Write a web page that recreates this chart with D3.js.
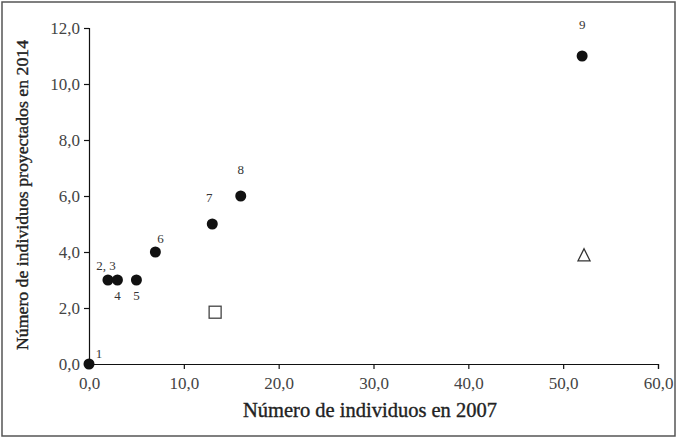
<!DOCTYPE html>
<html><head><meta charset="utf-8">
<script src="https://cdn.jsdelivr.net/npm/d3@7/dist/d3.min.js"></script>
<style>body{margin:0;background:#fff}svg{display:block}text{font-family:"Liberation Serif","DejaVu Serif",serif}</style>
</head><body>
<script>
// Data
const pointLabels = ["1","2, 3","4","5","6","7","8","9"];
const x2007 = [0, 2, 3, 5, 7, 13, 16, 52];
const y2014 = [0, 3, 3, 3, 4, 5, 6, 11];
const squareX = [13.3], squareY = [1.85];
const triangleX = [52.2], triangleY = [3.9];
const xTicks = [0,10,20,30,40,50,60];
const yTicks = [0,2,4,6,8,10,12];
const xTitle = "Número de individuos en 2007";
const yTitle = "Número de individuos proyectados en 2014";

// label offsets (style, not data)
const labelOff = [[10,-6],[-2,-10],[0,20],[0,20],[5,-9],[-3,-22],[0,-22],[0,-27]];

const W = 677, H = 439;
const m = {left: 89, right: 19, top: 28, bottom: 75};
const svg = d3.select("body").append("svg").attr("width", W).attr("height", H);
svg.append("rect").attr("x",2).attr("y",2).attr("width",W-4).attr("height",H-5)
  .attr("fill","none").attr("stroke","#555").attr("stroke-width",1.5);

const x = d3.scaleLinear().domain([0,60]).range([m.left, W-m.right]);
const y = d3.scaleLinear().domain([0,12]).range([H-m.bottom, m.top]);
const fmt = d => d3.format(".1f")(d).replace(".", ",");

const gx = svg.append("g").attr("transform",`translate(0,${H-m.bottom})`)
  .call(d3.axisBottom(x).tickValues(xTicks).tickFormat(fmt).tickSizeOuter(0).tickSize(5).tickPadding(6));
const gy = svg.append("g").attr("transform",`translate(${m.left},0)`)
  .call(d3.axisLeft(y).tickValues(yTicks).tickFormat(fmt).tickSizeOuter(0).tickSize(5).tickPadding(4));
[gx,gy].forEach(g=>{
  g.select(".domain").attr("stroke","#111").attr("stroke-width",1.2);
  g.selectAll(".tick line").attr("stroke","#111").attr("stroke-width",1.2);
  g.selectAll(".tick text").attr("fill","#444").attr("font-size",17)
    .attr("font-family","'Liberation Serif',serif");
});
gy.selectAll(".tick text").attr("dy","0.3em");
gx.selectAll(".tick text").attr("dy","0.85em");

svg.append("text").attr("x",370).attr("y",417).attr("text-anchor","middle")
  .attr("font-size",20).attr("fill","#222").attr("stroke","#222").attr("stroke-width",0.35)
  .attr("textLength",254).attr("lengthAdjust","spacingAndGlyphs").text(xTitle);
svg.append("text").attr("transform",`translate(28,195) rotate(-90)`)
  .attr("text-anchor","middle").attr("font-size",17).attr("fill","#222").attr("stroke","#222").attr("stroke-width",0.35)
  .attr("textLength",310).attr("lengthAdjust","spacingAndGlyphs").text(yTitle);

const pts = x2007.map((d,i)=>({x:d,y:y2014[i],l:pointLabels[i],o:labelOff[i]}));
svg.append("g").selectAll("circle").data(pts).join("circle")
  .attr("cx",d=>x(d.x)).attr("cy",d=>y(d.y)).attr("r",5.5).attr("fill","#111");
svg.append("g").attr("opacity",0.99).selectAll("text").data(pts).join("text")
  .attr("x",d=>x(d.x)+d.o[0]).attr("y",d=>y(d.y)+d.o[1]).attr("text-anchor","middle")
  .attr("font-size",13).attr("fill","#333").text(d=>d.l);

svg.append("g").selectAll("rect").data(squareX.map((d,i)=>({x:d,y:squareY[i]}))).join("rect")
  .attr("x",d=>x(d.x)-6).attr("y",d=>y(d.y)-6).attr("width",12).attr("height",12)
  .attr("fill","#fff").attr("stroke","#444").attr("stroke-width",1.3);
svg.append("g").selectAll("path").data(triangleX.map((d,i)=>({x:d,y:triangleY[i]}))).join("path")
  .attr("d",d=>{const cx=x(d.x),cy=y(d.y);return `M${cx},${cy-6}L${cx+6},${cy+6}L${cx-6},${cy+6}Z`;})
  .attr("fill","#fff").attr("stroke","#333").attr("stroke-width",1.3);
</script>
</body></html>
